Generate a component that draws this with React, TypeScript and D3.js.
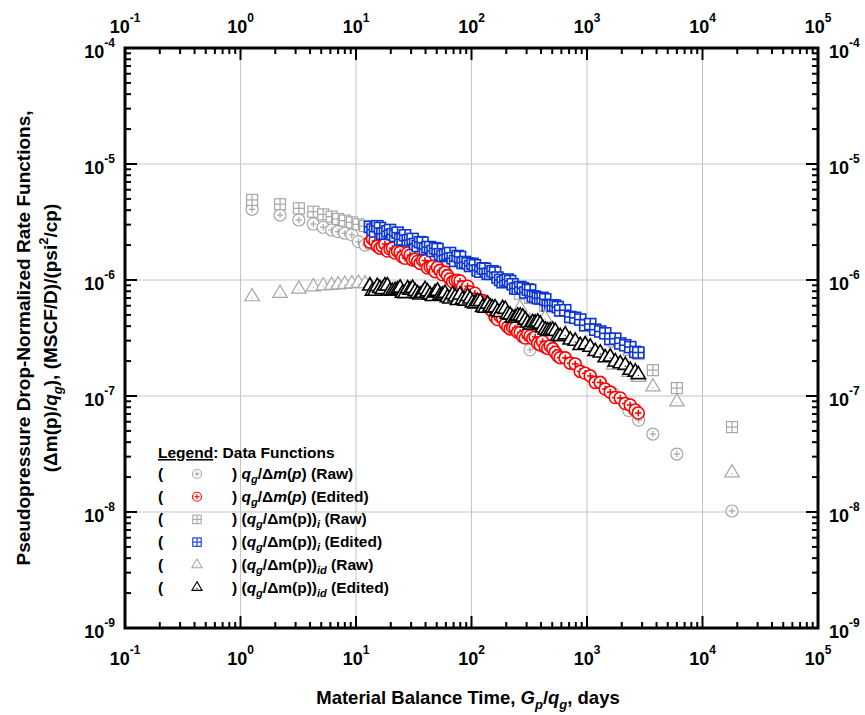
import React from 'react';
import * as d3 from 'd3';

const FONT = "'Liberation Sans', Arial, Helvetica, sans-serif";
const GRAY = '#a6a6a6';
const RED = '#ff0000';
const BLUE = '#0d36d2';
const BLACK = '#000000';

const xDecades = [-1, 0, 1, 2, 3, 4, 5];
const yDecades = [-9, -8, -7, -6, -5, -4];
const minorMults = [2, 3, 4, 5, 6, 7, 8, 9];

// Raw data (gray)
const rawTime = [1.26, 2.2, 3.2, 4.27, 5.2, 6.15, 7.0, 8.0, 9.2, 10.5, 12.0, 13.2, 263, 321, 433, 1700, 2300, 2800, 3720, 6000, 18000];
const rawRate = [4.07e-6, 3.63e-6, 3.29e-6, 3.04e-6, 2.85e-6, 2.70e-6, 2.61e-6, 2.53e-6, 2.45e-6, 2.14e-6, 2.0e-6, 2.05e-6, 3.5e-7, 2.5e-7, 2.8e-7, 1.05e-7, 7.5e-8, 6.2e-8, 4.7e-8, 3.16e-8, 1.02e-8];
const rawInt = [4.9e-6, 4.5e-6, 4.15e-6, 3.88e-6, 3.68e-6, 3.52e-6, 3.36e-6, 3.25e-6, 3.14e-6, 3.02e-6, 2.92e-6, 2.85e-6, 7.6e-7, 7.0e-7, 6.0e-7, 2.95e-7, 2.5e-7, 2.3e-7, 1.67e-7, 1.17e-7, 5.4e-8];
const rawIntDer = [7.18e-7, 7.67e-7, 8.36e-7, 8.75e-7, 8.9e-7, 9.0e-7, 9.1e-7, 9.2e-7, 9.3e-7, 9.4e-7, 9.3e-7, 9.0e-7, 5.74e-7, 4.4e-7, 4.7e-7, 1.85e-7, 1.6e-7, 1.45e-7, 1.2e-7, 8.9e-8, 2.18e-8];

// Edited data
const editTime = [
  13.2, 13.9, 14.6, 15.3, 16.1, 16.9, 17.8, 18.7, 19.7, 20.7,
  21.8, 22.9, 24.1, 25.3, 26.6, 28.0, 29.4, 30.9, 32.5, 34.2,
  35.9, 37.7, 39.6, 41.6, 43.8, 46.0, 48.4, 50.8, 53.4, 56.1,
  59.0, 62.0, 65.2, 68.6, 72.1, 75.8, 79.6, 83.7, 88.0, 92.5,
  97.2, 102, 107, 113, 119, 125, 131, 138, 145, 152,
  160, 168, 177, 186, 196, 206, 216, 227, 239, 251,
  264, 278, 292, 307, 322, 339, 356, 374, 393, 413,
  435, 457, 480, 505, 531, 558, 586, 648, 716, 791,
  874, 965, 1067, 1179, 1302, 1439, 1590, 1757, 1941, 2145,
  2370, 2618, 2780,
];
const editRate = [
  2.12e-6, 2.26e-6, 2.17e-6, 1.96e-6, 1.88e-6, 1.95e-6, 2.04e-6, 1.78e-6, 1.85e-6, 1.88e-6,
  1.71e-6, 1.77e-6, 1.74e-6, 1.58e-6, 1.54e-6, 1.71e-6, 1.64e-6, 1.49e-6, 1.51e-6, 1.45e-6,
  1.39e-6, 1.48e-6, 1.47e-6, 1.27e-6, 1.30e-6, 1.31e-6, 1.18e-6, 1.29e-6, 1.21e-6, 1.11e-6,
  1.17e-6, 1.09e-6, 1.02e-6, 9.66e-7, 9.90e-7, 9.95e-7, 9.80e-7, 8.75e-7, 8.12e-7, 8.84e-7,
  7.88e-7, 7.41e-7, 7.69e-7, 6.67e-7, 6.53e-7, 6.64e-7, 6.37e-7, 6.16e-7, 5.62e-7, 5.35e-7,
  4.80e-7, 4.56e-7, 4.89e-7, 4.70e-7, 4.17e-7, 3.93e-7, 3.79e-7, 3.89e-7, 3.86e-7, 3.54e-7,
  3.53e-7, 3.24e-7, 3.16e-7, 3.42e-7, 3.29e-7, 3.13e-7, 3.23e-7, 2.84e-7, 2.76e-7, 2.95e-7,
  2.64e-7, 2.57e-7, 2.70e-7, 2.56e-7, 2.38e-7, 2.22e-7, 2.14e-7, 2.13e-7, 1.92e-7, 1.89e-7,
  1.63e-7, 1.57e-7, 1.49e-7, 1.31e-7, 1.31e-7, 1.15e-7, 1.08e-7, 9.71e-8, 9.61e-8, 8.62e-8,
  8.37e-8, 7.57e-8, 7.14e-8,
];
const editInt = [
  2.87e-6, 2.72e-6, 2.62e-6, 2.91e-6, 2.81e-6, 2.50e-6, 2.52e-6, 2.63e-6, 2.70e-6, 2.48e-6,
  2.40e-6, 2.56e-6, 2.23e-6, 2.24e-6, 2.43e-6, 2.20e-6, 2.21e-6, 2.26e-6, 2.04e-6, 1.96e-6,
  2.12e-6, 2.10e-6, 1.85e-6, 1.92e-6, 1.92e-6, 1.78e-6, 1.88e-6, 1.85e-6, 1.67e-6, 1.61e-6,
  1.64e-6, 1.67e-6, 1.71e-6, 1.54e-6, 1.46e-6, 1.61e-6, 1.58e-6, 1.40e-6, 1.43e-6, 1.39e-6,
  1.32e-6, 1.38e-6, 1.34e-6, 1.21e-6, 1.18e-6, 1.26e-6, 1.25e-6, 1.13e-6, 1.13e-6, 1.19e-6,
  1.16e-6, 1.05e-6, 1.00e-6, 9.56e-7, 9.90e-7, 1.01e-6, 9.80e-7, 9.19e-7, 8.45e-7, 8.41e-7,
  8.70e-7, 8.49e-7, 7.80e-7, 8.28e-7, 8.20e-7, 7.22e-7, 7.17e-7, 6.98e-7, 6.93e-7, 7.01e-7,
  6.82e-7, 6.02e-7, 5.97e-7, 6.05e-7, 6.00e-7, 5.84e-7, 5.46e-7, 5.49e-7, 4.80e-7, 4.72e-7,
  4.56e-7, 4.07e-7, 4.17e-7, 3.73e-7, 3.60e-7, 3.47e-7, 3.10e-7, 3.12e-7, 2.84e-7, 2.74e-7,
  2.64e-7, 2.40e-7, 2.37e-7,
];
const editIntDer = [
  8.88e-7, 8.02e-7, 8.00e-7, 8.81e-7, 8.45e-7, 8.27e-7, 8.92e-7, 8.90e-7, 8.04e-7, 8.00e-7,
  8.12e-7, 8.24e-7, 8.53e-7, 7.69e-7, 7.65e-7, 8.41e-7, 8.20e-7, 8.49e-7, 7.96e-7, 7.61e-7,
  7.43e-7, 7.69e-7, 8.28e-7, 7.92e-7, 7.43e-7, 7.22e-7, 7.76e-7, 8.02e-7, 7.35e-7, 7.44e-7,
  7.69e-7, 7.05e-7, 6.86e-7, 7.50e-7, 7.14e-7, 6.66e-7, 7.43e-7, 6.79e-7, 6.59e-7, 7.21e-7,
  6.86e-7, 6.35e-7, 6.24e-7, 6.51e-7, 6.53e-7, 5.80e-7, 5.71e-7, 6.20e-7, 5.86e-7, 5.75e-7,
  5.77e-7, 5.34e-7, 5.25e-7, 5.69e-7, 5.59e-7, 5.08e-7, 4.99e-7, 4.70e-7, 4.70e-7, 4.89e-7,
  4.89e-7, 4.80e-7, 4.52e-7, 4.26e-7, 4.09e-7, 4.30e-7, 4.26e-7, 4.34e-7, 4.17e-7, 3.86e-7,
  3.71e-7, 3.64e-7, 3.64e-7, 3.70e-7, 3.61e-7, 3.26e-7, 3.26e-7, 3.37e-7, 3.04e-7, 2.97e-7,
  2.73e-7, 2.77e-7, 2.64e-7, 2.42e-7, 2.35e-7, 2.14e-7, 2.17e-7, 1.97e-7, 1.90e-7, 1.84e-7,
  1.67e-7, 1.61e-7, 1.53e-7,
];

const PL = 125, PR = 818, PT = 48, PB = 628;

type MarkProps = { cx: number; cy: number; s: number; color: string; sw?: number };

function CircleMark({ cx, cy, s, color, sw = 1.2 }: MarkProps) {
  const a = s * 0.55;
  return (
    <g>
      <circle cx={cx} cy={cy} r={s} fill="#fff" stroke={color} strokeWidth={sw} />
      <line x1={cx - a} x2={cx + a} y1={cy} y2={cy} stroke={color} strokeWidth={sw} />
      <line x1={cx} x2={cx} y1={cy - a} y2={cy + a} stroke={color} strokeWidth={sw} />
    </g>
  );
}

function SquareMark({ cx, cy, s, color, sw = 1.2 }: MarkProps) {
  return (
    <g>
      <rect x={cx - s} y={cy - s} width={2 * s} height={2 * s} fill="#fff" stroke={color} strokeWidth={sw} />
      <line x1={cx - s} x2={cx + s} y1={cy} y2={cy} stroke={color} strokeWidth={sw} />
      <line x1={cx} x2={cx} y1={cy - s} y2={cy + s} stroke={color} strokeWidth={sw} />
    </g>
  );
}

function TriMark({ cx, cy, s, color, sw = 1.2 }: MarkProps) {
  const h = s * 1.75;
  const w = s * 2.05;
  const pts = `${cx},${cy - (h * 2) / 3} ${cx - w / 2},${cy + h / 3} ${cx + w / 2},${cy + h / 3}`;
  return (
    <g>
      <polygon points={pts} fill="#fff" stroke={color} strokeWidth={sw} strokeLinejoin="miter" />
      <circle cx={cx} cy={cy + 1} r={0.7} fill={color} />
    </g>
  );
}

function Pow({ x, y, exp, anchor }: { x: number; y: number; exp: number; anchor: 'start' | 'middle' | 'end' }) {
  return (
    <text x={x} y={y} textAnchor={anchor} fontFamily={FONT} fontWeight="bold" fontSize={18} fill="#000">
      10
      <tspan fontSize={12} dy={-11}>{String(exp)}</tspan>
    </text>
  );
}

export default function App() {
  const x = d3.scaleLog().domain([1e-1, 1e5]).range([PL, PR]);
  const y = d3.scaleLog().domain([1e-9, 1e-4]).range([PB, PT]);

  const xMajor = xDecades.map((d) => Math.pow(10, d));
  const yMajor = yDecades.map((d) => Math.pow(10, d));
  const xMinor: number[] = [];
  xDecades.slice(0, -1).forEach((d) => minorMults.forEach((m) => xMinor.push(m * Math.pow(10, d))));
  const yMinor: number[] = [];
  yDecades.slice(0, -1).forEach((d) => minorMults.forEach((m) => yMinor.push(m * Math.pow(10, d))));

  const majLen = 12;
  const minLen = 6;
  const tickW = 2;

  const series = [
    { t: rawTime, v: rawRate, M: CircleMark, color: GRAY, s: 6, sw: 1.2 },
    { t: editTime, v: editRate, M: CircleMark, color: RED, s: 6, sw: 1.6 },
    { t: rawTime, v: rawInt, M: SquareMark, color: GRAY, s: 5.5, sw: 1.2 },
    { t: editTime, v: editInt, M: SquareMark, color: BLUE, s: 5.5, sw: 1.6 },
    { t: rawTime, v: rawIntDer, M: TriMark, color: GRAY, s: 7, sw: 1.2 },
    { t: editTime, v: editIntDer, M: TriMark, color: BLACK, s: 7, sw: 1.6 },
  ];

  const legendX = 158;
  const legendTitleY = 458;
  const rowY0 = 479;
  const rowDy = 22.7;
  const legendMarkX = 197;
  const legendTextX = 232;
  const fs = 15.5;
  const sub = 11;

  const rateLabel = (tag: string) => (
    <>
      <tspan fontStyle="italic">q</tspan>
      <tspan fontStyle="italic" fontSize={sub} dy={4}>g</tspan>
      <tspan dy={-4}>/Δ</tspan>
      <tspan fontStyle="italic">m</tspan>
      <tspan>(</tspan>
      <tspan fontStyle="italic">p</tspan>
      <tspan>{`) (${tag})`}</tspan>
    </>
  );
  const intLabel = (tag: string, subs: string) => (
    <>
      <tspan>(</tspan>
      <tspan fontStyle="italic">q</tspan>
      <tspan fontStyle="italic" fontSize={sub} dy={4}>g</tspan>
      <tspan dy={-4}>/Δm(p))</tspan>
      <tspan fontStyle="italic" fontSize={sub} dy={4}>{subs}</tspan>
      <tspan dy={-4}>{` (${tag})`}</tspan>
    </>
  );

  const legendRows = [
    { M: CircleMark, color: GRAY, s: 4.5, label: rateLabel('Raw') },
    { M: CircleMark, color: RED, s: 4.5, label: rateLabel('Edited') },
    { M: SquareMark, color: GRAY, s: 4.2, label: intLabel('Raw', 'i') },
    { M: SquareMark, color: BLUE, s: 4.2, label: intLabel('Edited', 'i') },
    { M: TriMark, color: GRAY, s: 5, label: intLabel('Raw', 'id') },
    { M: TriMark, color: BLACK, s: 5, label: intLabel('Edited', 'id') },
  ];

  return (
    <svg width={865} height={715} style={{ position: 'absolute', left: 0, top: 0, background: '#fff' }}>
      <rect x={0} y={0} width={865} height={715} fill="#fff" />
      {/* grid */}
      {xMajor.slice(1, -1).map((v) => (
        <line key={'gx' + v} x1={x(v)} x2={x(v)} y1={PT} y2={PB} stroke="#c4c4c4" strokeWidth={1} />
      ))}
      {yMajor.slice(1, -1).map((v) => (
        <line key={'gy' + v} x1={PL} x2={PR} y1={y(v)} y2={y(v)} stroke="#c4c4c4" strokeWidth={1} />
      ))}

      {/* data */}
      {series.map((sr, si) => (
        <g key={'s' + si}>
          {sr.t.map((t, i) => (
            <sr.M key={i} cx={x(t)} cy={y(sr.v[i])} s={sr.s} color={sr.color} sw={sr.sw} />
          ))}
        </g>
      ))}

      {/* ticks */}
      <g stroke="#000" strokeWidth={tickW}>
        {xMinor.map((v) => (
          <g key={'xm' + v}>
            <line x1={x(v)} x2={x(v)} y1={PB} y2={PB - minLen} />
            <line x1={x(v)} x2={x(v)} y1={PT} y2={PT + minLen} />
          </g>
        ))}
        {xMajor.map((v) => (
          <g key={'xM' + v}>
            <line x1={x(v)} x2={x(v)} y1={PB} y2={PB - majLen} />
            <line x1={x(v)} x2={x(v)} y1={PT} y2={PT + majLen} />
          </g>
        ))}
        {yMinor.map((v) => (
          <g key={'ym' + v}>
            <line x1={PL} x2={PL + minLen} y1={y(v)} y2={y(v)} />
            <line x1={PR} x2={PR - minLen} y1={y(v)} y2={y(v)} />
          </g>
        ))}
        {yMajor.map((v) => (
          <g key={'yM' + v}>
            <line x1={PL} x2={PL + majLen} y1={y(v)} y2={y(v)} />
            <line x1={PR} x2={PR - majLen} y1={y(v)} y2={y(v)} />
          </g>
        ))}
      </g>
      <rect x={PL} y={PT} width={PR - PL} height={PB - PT} fill="none" stroke="#000" strokeWidth={3} />

      {/* tick labels */}
      {xDecades.map((d) => (
        <g key={'xl' + d}>
          <Pow x={x(Math.pow(10, d))} y={665} exp={d} anchor="middle" />
          <Pow x={x(Math.pow(10, d))} y={33} exp={d} anchor="middle" />
        </g>
      ))}
      {yDecades.map((d) => (
        <g key={'yl' + d}>
          <Pow x={115} y={y(Math.pow(10, d)) + 10} exp={d} anchor="end" />
          <Pow x={829} y={y(Math.pow(10, d)) + 10} exp={d} anchor="start" />
        </g>
      ))}

      {/* axis titles */}
      <text x={468} y={704} textAnchor="middle" fontFamily={FONT} fontWeight="bold" fontSize={18.5} fill="#000">
        <tspan>Material Balance Time, </tspan>
        <tspan fontStyle="italic">G</tspan>
        <tspan fontStyle="italic" fontSize={13} dy={5}>p</tspan>
        <tspan dy={-5}>/</tspan>
        <tspan fontStyle="italic">q</tspan>
        <tspan fontStyle="italic" fontSize={13} dy={5}>g</tspan>
        <tspan dy={-5}>, days</tspan>
      </text>
      <text transform={`translate(30,${(PT + PB) / 2}) rotate(-90)`} textAnchor="middle" fontFamily={FONT} fontWeight="bold" fontSize={19} fill="#000">
        Pseudopressure Drop-Normalized Rate Functions,
      </text>
      <text transform={`translate(57,${(PT + PB) / 2}) rotate(-90)`} textAnchor="middle" fontFamily={FONT} fontWeight="bold" fontSize={19} fill="#000">
        <tspan>(Δm(p)/</tspan>
        <tspan fontStyle="italic">q</tspan>
        <tspan fontStyle="italic" fontSize={13} dy={5}>g</tspan>
        <tspan dy={-5}>), (MSCF/D)/(psi</tspan>
        <tspan fontSize={13} dy={-9}>2</tspan>
        <tspan dy={9}>/cp)</tspan>
      </text>

      {/* legend */}
      <g fontFamily={FONT} fontWeight="bold" fontSize={fs} fill="#000">
        <text x={legendX} y={legendTitleY}>
          <tspan style={{ textDecoration: 'underline' }}>Legend</tspan>
          <tspan>: Data Functions</tspan>
        </text>
        {legendRows.map((r, i) => {
          const yy = rowY0 + i * rowDy;
          return (
            <g key={'lg' + i}>
              <text x={legendX} y={yy}>(</text>
              <r.M cx={legendMarkX} cy={yy - 5} s={r.s} color={r.color} sw={1.1} />
              <text x={legendTextX} y={yy}>
                <tspan>{') '}</tspan>
                {r.label}
              </text>
            </g>
          );
        })}
      </g>
    </svg>
  );
}
